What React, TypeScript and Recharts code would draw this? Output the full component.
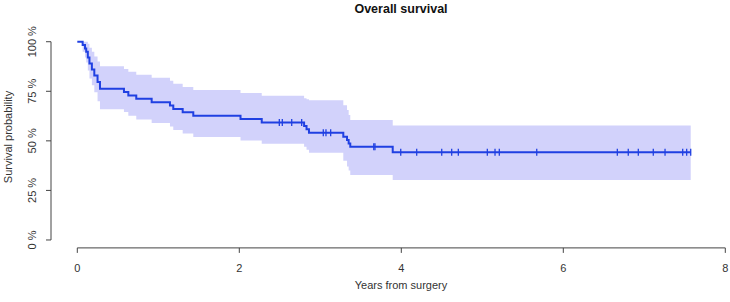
import {
  ComposedChart,
  XAxis,
  YAxis,
  Area,
  Line,
  Scatter,
  ReferenceLine,
} from "recharts";

// Kaplan-Meier steps (years, survival fraction)
const stepTimes = [
  0, 0.066, 0.095, 0.11, 0.13, 0.15, 0.18, 0.21, 0.25, 0.28, 0.576, 0.63,
  0.728, 0.918, 1.144, 1.185, 1.301, 1.432, 2.015, 2.277, 2.8, 2.83, 2.86,
  3.284, 3.33, 3.35, 3.37, 3.894, 7.573,
];
const survival = [
  1, 0.983, 0.966, 0.949, 0.92, 0.89, 0.86, 0.83, 0.797, 0.763, 0.746, 0.729,
  0.712, 0.695, 0.678, 0.661, 0.644, 0.627, 0.61, 0.593, 0.575, 0.558, 0.541,
  0.521, 0.504, 0.487, 0.47, 0.442, 0.442,
];
const lowerCI = [
  1, 0.95, 0.92, 0.895, 0.855, 0.815, 0.78, 0.745, 0.7, 0.66, 0.645, 0.626,
  0.608, 0.59, 0.572, 0.555, 0.537, 0.52, 0.502, 0.485, 0.47, 0.455, 0.44,
  0.4, 0.37, 0.35, 0.328, 0.303, 0.303,
];
const upperCI = [
  1, 1, 1, 1, 0.99, 0.97, 0.95, 0.925, 0.9, 0.876, 0.862, 0.848, 0.833, 0.818,
  0.803, 0.788, 0.772, 0.757, 0.741, 0.728, 0.715, 0.71, 0.705, 0.68, 0.655,
  0.63, 0.605, 0.578, 0.578,
];

// censoring marks
const censorTimes = [
  2.494, 2.531, 2.647, 2.77, 3.037, 3.07, 3.128, 3.66, 3.675, 3.993, 4.19,
  4.499, 4.622, 4.704, 5.062, 5.157, 5.21, 5.672, 6.667, 6.802, 6.926, 7.111,
  7.256, 7.474, 7.523, 7.573,
];
const censorSurv = [
  0.593, 0.593, 0.593, 0.593, 0.541, 0.541, 0.541, 0.47, 0.47, 0.442, 0.442,
  0.442, 0.442, 0.442, 0.442, 0.442, 0.442, 0.442, 0.442, 0.442, 0.442, 0.442,
  0.442, 0.442, 0.442, 0.442,
];

const xTicks = [0, 2, 4, 6, 8];
const yTicks = [0, 0.25, 0.5, 0.75, 1];

const kmData = stepTimes.map((t, i) => ({
  t,
  s: survival[i],
  ci: [lowerCI[i], upperCI[i]],
}));
const censorData = censorTimes.map((t, i) => ({ t, s: censorSurv[i] }));

const BLUE = "#2040e2";
const BAND = "#d2d2fb";
const AXIS = "#444";
const FONT = "'Liberation Sans', Arial, sans-serif";

const CensorMark = (props: any) => {
  const { cx, cy } = props;
  return (
    <line
      x1={cx}
      x2={cx}
      y1={cy - 3.5}
      y2={cy + 3.5}
      stroke={BLUE}
      strokeWidth={1.3}
    />
  );
};

const YTick = (props: any) => {
  const { x, y, payload } = props;
  return (
    <text
      x={x}
      y={y}
      transform={`rotate(-90, ${x}, ${y})`}
      textAnchor="middle"
      fontSize={11}
      fill="#333"
      fontFamily={FONT}
    >
      {`${Math.round(payload.value * 100)} %`}
    </text>
  );
};

const XTick = (props: any) => {
  const { x, y, payload } = props;
  return (
    <text
      x={x}
      y={y}
      dy="0.71em"
      textAnchor="middle"
      fontSize={11}
      fill="#333"
      fontFamily={FONT}
    >
      {payload.value}
    </text>
  );
};

export default function App() {
  return (
    <div
      style={{
        position: "fixed",
        left: 0,
        top: 0,
        width: 730,
        height: 302,
        background: "#fff",
      }}
    >
      <ComposedChart
        width={730}
        height={302}
        margin={{ top: 33.8, right: 0, bottom: 0, left: 0 }}
        style={{ overflow: "visible" }}
      >
        <XAxis
          type="number"
          dataKey="t"
          domain={[-0.3247, 8.058]}
          ticks={xTicks}
          interval={0}
          axisLine={false}
          tickLine={{ stroke: AXIS }}
          tickSize={5}
          tickMargin={11}
          height={54.1}
          tick={<XTick />}
        />
        <YAxis
          type="number"
          domain={[-0.04, 1.04]}
          ticks={yTicks}
          interval={0}
          axisLine={false}
          tickLine={{ stroke: AXIS }}
          tickSize={5}
          tickMargin={10}
          width={51}
          tick={<YTick />}
        />
        <Area
          data={kmData}
          dataKey="ci"
          type="stepAfter"
          stroke="none"
          fill={BAND}
          fillOpacity={1}
          isAnimationActive={false}
        />
        <Line
          data={kmData}
          dataKey="s"
          type="stepAfter"
          stroke={BLUE}
          strokeWidth={2}
          dot={false}
          activeDot={false}
          isAnimationActive={false}
        />
        <Scatter
          data={censorData}
          dataKey="s"
          shape={CensorMark}
          isAnimationActive={false}
        />
        <ReferenceLine
          segment={[
            { x: 0, y: -0.04 },
            { x: 8, y: -0.04 },
          ]}
          stroke={AXIS}
        />
        <ReferenceLine
          segment={[
            { x: -0.3247, y: 0 },
            { x: -0.3247, y: 1 },
          ]}
          stroke={AXIS}
        />
        <text
          x={401}
          y={289}
          textAnchor="middle"
          fontSize={11}
          fill="#333"
          fontFamily={FONT}
        >
          Years from surgery
        </text>
        <text
          x={401}
          y={13}
          textAnchor="middle"
          fontSize={12.5}
          fontWeight="bold"
          fill="#111"
          fontFamily={FONT}
        >
          Overall survival
        </text>
        <text
          x={12}
          y={137}
          transform="rotate(-90, 12, 137)"
          textAnchor="middle"
          fontSize={11}
          fill="#333"
          fontFamily={FONT}
        >
          Survival probability
        </text>
      </ComposedChart>
    </div>
  );
}
